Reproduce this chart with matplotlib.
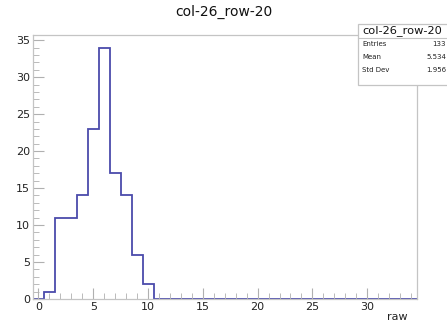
import numpy as np
import matplotlib.pyplot as plt
from matplotlib.patches import Rectangle
from matplotlib.ticker import MultipleLocator

# histogram contents (bins of width 1, centred on integers 0..34)
bin_edges = np.arange(-0.5, 35.5, 1.0)
counts = [0, 1, 11, 11, 14, 23, 34, 17, 14, 6, 2] + [0] * 24
title = "col-26_row-20"
x_label = "raw"
stats_names = ["Entries", "Mean", "Std Dev"]
stats_values = ["133", "5.534", "1.956"]

W, H = 447, 322
fig = plt.figure(figsize=(W / 100, H / 100), dpi=100)
ax = fig.add_axes([33 / W, 1 - 299 / H, (416.5 - 33) / W, (299 - 35) / H])

ax.stairs(counts, bin_edges, color="#4b4bab", lw=1.3)
ax.set_xlim(bin_edges[0], bin_edges[-1])
ax.set_ylim(0, max(counts) * 1.05)

for s in ax.spines.values():
    s.set_color("#c4c4c4")
    s.set_linewidth(0.9)

ax.xaxis.set_major_locator(MultipleLocator(5))
ax.xaxis.set_minor_locator(MultipleLocator(1))
ax.yaxis.set_major_locator(MultipleLocator(5))
ax.yaxis.set_minor_locator(MultipleLocator(1))
ax.tick_params(which="both", direction="in", color="#b0b0b0", labelsize=8,
               labelcolor="#222222", top=False, right=False)
ax.tick_params(which="major", length=8, width=0.8, pad=2)
ax.tick_params(which="minor", length=4, width=0.6)

fig.text(408 / W, 1 - 317 / H, x_label, ha="right", va="center", fontsize=8, color="#222222")
fig.text(0.5, 1 - 12 / H, title, ha="center", va="center", fontsize=10, color="#111111")

# stats box
bx0, by_top, by_bot = 358 / W, 1 - 24 / H, 1 - 85 / H
fig.patches.append(Rectangle((bx0, by_bot), 0.3, by_top - by_bot, transform=fig.transFigure,
                             facecolor="white", edgecolor="#c4c4c4", lw=0.9, zorder=5))
fig.add_artist(plt.Line2D([bx0, 1.1], [1 - 37.7 / H] * 2, transform=fig.transFigure,
                          color="#c4c4c4", lw=0.8, zorder=6))
fig.text(402 / W, 1 - 30.7 / H, title, ha="center", va="center", fontsize=8.2,
         color="#111111", zorder=7)
rows_y = [44.3, 56.7, 70]
for name, val, yy in zip(stats_names, stats_values, rows_y):
    fig.text(362 / W, 1 - yy / H, name, ha="left", va="center", fontsize=5,
             color="#222222", zorder=7)
    fig.text(446 / W, 1 - yy / H, val, ha="right", va="center", fontsize=5,
             color="#222222", zorder=7)

fig.savefig("out.png", dpi=100)
